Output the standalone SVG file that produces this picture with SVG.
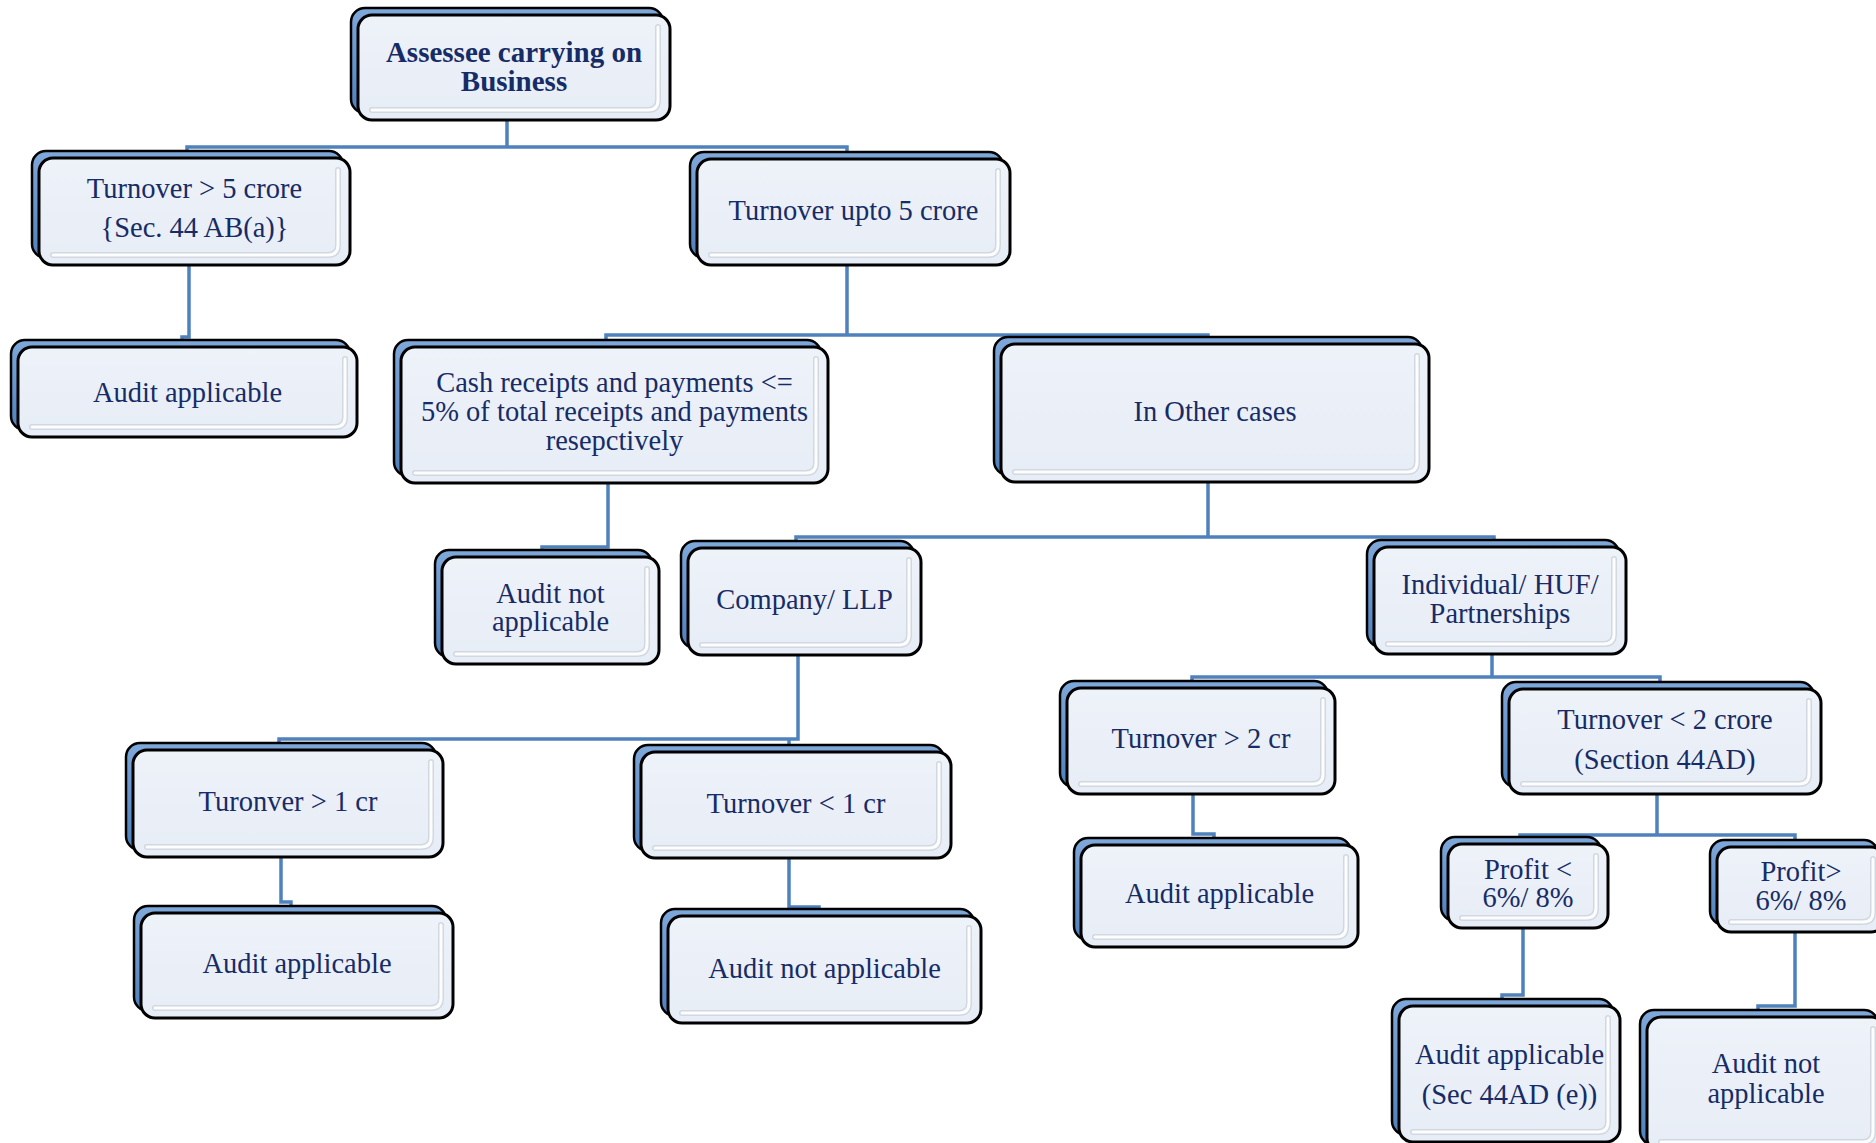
<svg xmlns="http://www.w3.org/2000/svg" width="1876" height="1143" viewBox="0 0 1876 1143">
<defs>
<linearGradient id="gBack" x1="0" y1="0" x2="0" y2="1">
<stop offset="0" stop-color="#7FA8DA"/>
<stop offset="1" stop-color="#4F81BD"/>
</linearGradient>
<linearGradient id="gFront" x1="0" y1="0" x2="0" y2="1">
<stop offset="0" stop-color="#EEF2F9"/>
<stop offset="1" stop-color="#E7EDF6"/>
</linearGradient>
<style>
.back{fill:url(#gBack);stroke:#000;stroke-width:2.5}
.front{fill:url(#gFront);stroke:#000;stroke-width:3}
.hls{fill:none;stroke:#D3D8E0;stroke-width:6;stroke-linecap:round}
.hl{fill:none;stroke:#FCFDFE;stroke-width:3;stroke-linecap:round}
.txt{font-family:"Liberation Serif","Times New Roman",serif;font-size:28.5px;fill:#172C66;text-anchor:middle}
.bold{font-weight:bold;font-size:29px}
.conn{fill:none;stroke:#4F81BD;stroke-width:3.5;stroke-linejoin:miter}
</style>
</defs>
<rect width="1876" height="1143" fill="#fff"/>

<g id="connectors">
<path class="conn" d="M507,120 V147 M187,156 V147 H847 V156"/>
<path class="conn" d="M189,265 V337 H182 V344"/>
<path class="conn" d="M847,265 V335 M606,342 V335 H1208 V340"/>
<path class="conn" d="M608,483 V547 H542 V553"/>
<path class="conn" d="M1208,482 V537 M796,544 V537 H1494 V543"/>
<path class="conn" d="M798,655 V739 H279 V746 M789,739 V748"/>
<path class="conn" d="M281,857 V902 H291 V909"/>
<path class="conn" d="M789,858 V907 H819 V912"/>
<path class="conn" d="M1492,654 V677 M1192,684 V677 H1660 V685"/>
<path class="conn" d="M1193,794 V834 H1214 V841"/>
<path class="conn" d="M1657,794 V835 M1520,840 V835 H1795 V843"/>
<path class="conn" d="M1523,928 V995 H1502 V1002"/>
<path class="conn" d="M1795,932 V1006 H1758 V1013"/>
</g>

<g id="n-root">
<rect class="back" x="351" y="8" width="312" height="105" rx="14"/>
<rect class="front" x="358" y="15" width="312" height="105" rx="14"/>
<path class="hls" d="M658,27 V100 Q658,110 648,110 H372"/>
<path class="hl" d="M658,27 V100 Q658,110 648,110 H372"/>
<text class="txt bold"><tspan x="514" y="62">Assessee carrying on</tspan><tspan x="514" y="91">Business</tspan></text>
</g>

<g id="n-to5">
<rect class="back" x="32" y="151" width="311" height="107" rx="14"/>
<rect class="front" x="39" y="158" width="311" height="107" rx="14"/>
<path class="hls" d="M338,170 V245 Q338,255 328,255 H53"/>
<path class="hl" d="M338,170 V245 Q338,255 328,255 H53"/>
<text class="txt"><tspan x="194.5" y="198">Turnover &gt; 5 crore</tspan><tspan x="194.5" y="237">{Sec. 44 AB(a)}</tspan></text>
</g>

<g id="n-upto5">
<rect class="back" x="690" y="152" width="313" height="106" rx="14"/>
<rect class="front" x="697" y="159" width="313" height="106" rx="14"/>
<path class="hls" d="M998,171 V245 Q998,255 988,255 H711"/>
<path class="hl" d="M998,171 V245 Q998,255 988,255 H711"/>
<text class="txt"><tspan x="853.5" y="220">Turnover upto 5 crore</tspan></text>
</g>

<g id="n-aud1">
<rect class="back" x="11" y="340" width="339" height="90" rx="14"/>
<rect class="front" x="18" y="347" width="339" height="90" rx="14"/>
<path class="hls" d="M345,359 V417 Q345,427 335,427 H32"/>
<path class="hl" d="M345,359 V417 Q345,427 335,427 H32"/>
<text class="txt"><tspan x="187.5" y="402">Audit applicable</tspan></text>
</g>

<g id="n-cash">
<rect class="back" x="394" y="340" width="427" height="136" rx="14"/>
<rect class="front" x="401" y="347" width="427" height="136" rx="14"/>
<path class="hls" d="M816,359 V463 Q816,473 806,473 H415"/>
<path class="hl" d="M816,359 V463 Q816,473 806,473 H415"/>
<text class="txt"><tspan x="614.5" y="392">Cash receipts and payments &lt;=</tspan><tspan x="614.5" y="421">5% of total receipts and payments</tspan><tspan x="614.5" y="450">resepctively</tspan></text>
</g>

<g id="n-other">
<rect class="back" x="994" y="337" width="428" height="138" rx="14"/>
<rect class="front" x="1001" y="344" width="428" height="138" rx="14"/>
<path class="hls" d="M1417,356 V462 Q1417,472 1407,472 H1015"/>
<path class="hl" d="M1417,356 V462 Q1417,472 1407,472 H1015"/>
<text class="txt"><tspan x="1215" y="421">In Other cases</tspan></text>
</g>

<g id="n-ana1">
<rect class="back" x="435" y="550" width="217" height="107" rx="14"/>
<rect class="front" x="442" y="557" width="217" height="107" rx="14"/>
<path class="hls" d="M647,569 V644 Q647,654 637,654 H456"/>
<path class="hl" d="M647,569 V644 Q647,654 637,654 H456"/>
<text class="txt"><tspan x="550.5" y="603">Audit not</tspan><tspan x="550.5" y="631">applicable</tspan></text>
</g>

<g id="n-comp">
<rect class="back" x="681" y="541" width="233" height="107" rx="14"/>
<rect class="front" x="688" y="548" width="233" height="107" rx="14"/>
<path class="hls" d="M909,560 V635 Q909,645 899,645 H702"/>
<path class="hl" d="M909,560 V635 Q909,645 899,645 H702"/>
<text class="txt"><tspan x="804.5" y="609">Company/ LLP</tspan></text>
</g>

<g id="n-indiv">
<rect class="back" x="1367" y="540" width="252" height="107" rx="14"/>
<rect class="front" x="1374" y="547" width="252" height="107" rx="14"/>
<path class="hls" d="M1614,559 V634 Q1614,644 1604,644 H1388"/>
<path class="hl" d="M1614,559 V634 Q1614,644 1604,644 H1388"/>
<text class="txt"><tspan x="1500" y="594">Individual/ HUF/</tspan><tspan x="1500" y="623">Partnerships</tspan></text>
</g>

<g id="n-to1g">
<rect class="back" x="126" y="743" width="310" height="107" rx="14"/>
<rect class="front" x="133" y="750" width="310" height="107" rx="14"/>
<path class="hls" d="M431,762 V837 Q431,847 421,847 H147"/>
<path class="hl" d="M431,762 V837 Q431,847 421,847 H147"/>
<text class="txt"><tspan x="288" y="811">Turonver &gt; 1 cr</tspan></text>
</g>

<g id="n-to1l">
<rect class="back" x="634" y="745" width="310" height="106" rx="14"/>
<rect class="front" x="641" y="752" width="310" height="106" rx="14"/>
<path class="hls" d="M939,764 V838 Q939,848 929,848 H655"/>
<path class="hl" d="M939,764 V838 Q939,848 929,848 H655"/>
<text class="txt"><tspan x="796" y="813">Turnover &lt; 1 cr</tspan></text>
</g>

<g id="n-aud2">
<rect class="back" x="134" y="906" width="312" height="105" rx="14"/>
<rect class="front" x="141" y="913" width="312" height="105" rx="14"/>
<path class="hls" d="M441,925 V998 Q441,1008 431,1008 H155"/>
<path class="hl" d="M441,925 V998 Q441,1008 431,1008 H155"/>
<text class="txt"><tspan x="297" y="973">Audit applicable</tspan></text>
</g>

<g id="n-ana2">
<rect class="back" x="661" y="909" width="313" height="107" rx="14"/>
<rect class="front" x="668" y="916" width="313" height="107" rx="14"/>
<path class="hls" d="M969,928 V1003 Q969,1013 959,1013 H682"/>
<path class="hl" d="M969,928 V1003 Q969,1013 959,1013 H682"/>
<text class="txt"><tspan x="824.5" y="978">Audit not applicable</tspan></text>
</g>

<g id="n-to2g">
<rect class="back" x="1060" y="681" width="268" height="106" rx="14"/>
<rect class="front" x="1067" y="688" width="268" height="106" rx="14"/>
<path class="hls" d="M1323,700 V774 Q1323,784 1313,784 H1081"/>
<path class="hl" d="M1323,700 V774 Q1323,784 1313,784 H1081"/>
<text class="txt"><tspan x="1201" y="748">Turnover &gt; 2 cr</tspan></text>
</g>

<g id="n-to2l">
<rect class="back" x="1502" y="682" width="312" height="105" rx="14"/>
<rect class="front" x="1509" y="689" width="312" height="105" rx="14"/>
<path class="hls" d="M1809,701 V774 Q1809,784 1799,784 H1523"/>
<path class="hl" d="M1809,701 V774 Q1809,784 1799,784 H1523"/>
<text class="txt"><tspan x="1665" y="729">Turnover &lt; 2 crore</tspan><tspan x="1665" y="769">(Section 44AD)</tspan></text>
</g>

<g id="n-aud3">
<rect class="back" x="1074" y="838" width="277" height="102" rx="14"/>
<rect class="front" x="1081" y="845" width="277" height="102" rx="14"/>
<path class="hls" d="M1346,857 V927 Q1346,937 1336,937 H1095"/>
<path class="hl" d="M1346,857 V927 Q1346,937 1336,937 H1095"/>
<text class="txt"><tspan x="1219.5" y="903">Audit applicable</tspan></text>
</g>

<g id="n-pl">
<rect class="back" x="1441" y="837" width="160" height="84" rx="14"/>
<rect class="front" x="1448" y="844" width="160" height="84" rx="14"/>
<path class="hls" d="M1596,856 V908 Q1596,918 1586,918 H1462"/>
<path class="hl" d="M1596,856 V908 Q1596,918 1586,918 H1462"/>
<text class="txt"><tspan x="1528" y="879">Profit &lt;</tspan><tspan x="1528" y="907">6%/ 8%</tspan></text>
</g>

<g id="n-pg">
<rect class="back" x="1710" y="840" width="168" height="85" rx="14"/>
<rect class="front" x="1717" y="847" width="168" height="85" rx="14"/>
<path class="hls" d="M1873,859 V912 Q1873,922 1863,922 H1731"/>
<path class="hl" d="M1873,859 V912 Q1873,922 1863,922 H1731"/>
<text class="txt"><tspan x="1801" y="881">Profit&gt;</tspan><tspan x="1801" y="910">6%/ 8%</tspan></text>
</g>

<g id="n-aud4">
<rect class="back" x="1392" y="999" width="221" height="136" rx="14"/>
<rect class="front" x="1399" y="1006" width="221" height="136" rx="14"/>
<path class="hls" d="M1608,1018 V1122 Q1608,1132 1598,1132 H1413"/>
<path class="hl" d="M1608,1018 V1122 Q1608,1132 1598,1132 H1413"/>
<text class="txt"><tspan x="1509.5" y="1064">Audit applicable</tspan><tspan x="1509.5" y="1104">(Sec 44AD (e))</tspan></text>
</g>

<g id="n-ana3">
<rect class="back" x="1640" y="1010" width="238" height="135" rx="14"/>
<rect class="front" x="1647" y="1017" width="238" height="135" rx="14"/>
<path class="hls" d="M1873,1029 V1132 Q1873,1142 1863,1142 H1661"/>
<path class="hl" d="M1873,1029 V1132 Q1873,1142 1863,1142 H1661"/>
<text class="txt"><tspan x="1766" y="1073">Audit not</tspan><tspan x="1766" y="1103">applicable</tspan></text>
</g>
</svg>
